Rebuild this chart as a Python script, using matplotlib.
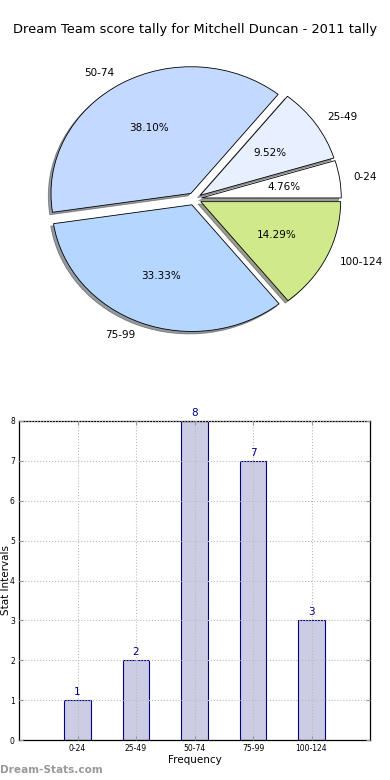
import matplotlib
matplotlib.use("Agg")
import matplotlib.pyplot as plt
import numpy as np

# ── Data ─────────────────────────────────────────────
categories = ["0-24", "25-49", "50-74", "75-99", "100-124"]
counts = [1, 2, 8, 7, 3]
pie_colors = ["#ffffff", "#e8f0ff", "#c4d9ff", "#b4d6ff", "#cfe98b"]

TITLE = "Dream Team score tally for Mitchell Duncan - 2011 tally"
BAR_FACE = "#ccccE4"
BAR_EDGE = "#000080"

fig = plt.figure(figsize=(3.9, 7.8), dpi=100)
fig.patch.set_facecolor("white")

# ── Pie (not equal aspect, like the old renderer) ───
ax_pie = fig.add_axes([0.050, 0.542, 0.897, 0.406])
ax_pie.pie(counts, labels=categories, colors=pie_colors,
           explode=[0.05] * len(counts), autopct="%.2f%%",
           shadow=dict(ox=-0.014, oy=-0.014, shade=0.75),
           startangle=0, counterclock=True,
           wedgeprops=dict(edgecolor="black", linewidth=0.6),
           textprops=dict(fontsize=7.5, color="black"))
ax_pie.set_aspect("auto")
ax_pie.set_xlim(-1.25, 1.25)
ax_pie.set_ylim(-1.25, 1.25)
ax_pie.axis("off")

fig.text(0.5, 1 - 30 / 780, TITLE, ha="center", va="center", fontsize=9.4)

# ── Bar chart ───────────────────────────────────────
ax = fig.add_axes([19 / 390, 1 - 740 / 780, 351 / 390, 319 / 780])
x = np.arange(len(categories))
ax.bar(x, counts, width=0.45, color=BAR_FACE, edgecolor=BAR_EDGE,
       linewidth=0.8, zorder=1)
for xi, c in zip(x, counts):
    ax.text(xi, c + 0.08, str(c), ha="center", va="bottom",
            color=BAR_EDGE, fontsize=7.5)

ax.set_xlim(-1, 5)
ax.set_ylim(0, 8)
ax.set_xticks(x)
ax.set_xticklabels(categories)
ax.set_yticks(range(0, 9))
ax.tick_params(labelsize=5.5, direction="in", length=3, color="#999999",
               top=True, right=True, pad=3)
ax.grid(True, linestyle=":", color="#bbbbbb", linewidth=0.8, zorder=0)
ax.set_axisbelow(False)
for spine in ax.spines.values():
    spine.set_linewidth(0.9)
ax.set_xlabel("Frequency", fontsize=7.5, labelpad=1)
# y label sits right against the left edge of the figure
fig.text(1 / 390, 1 - 580 / 780, "Stat Intervals", rotation=90,
         ha="left", va="center", fontsize=7.5)

fig.text(0.0, 1 - 770 / 780, "Dream-Stats.com", ha="left", va="center",
         fontsize=7.6, color="#999999", fontweight="bold")

fig.savefig("out.png", dpi=100, facecolor="white")
